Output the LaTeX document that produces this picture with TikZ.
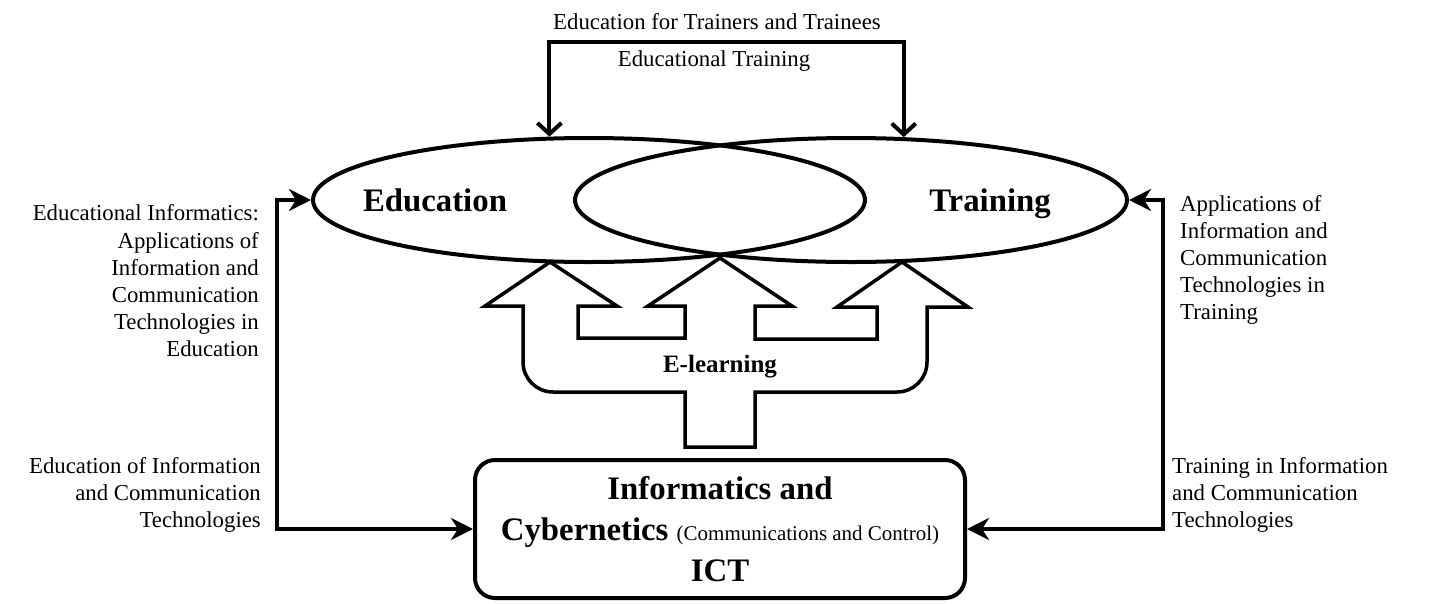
\documentclass[tikz,border=0pt]{standalone}
\usepackage{fontspec}
\setmainfont{Liberation Serif}
\usetikzlibrary{arrows.meta,shapes.geometric}
\begin{document}
\begin{tikzpicture}[x=1pt,y=-1pt,
  lbl/.style={inner sep=0pt, font=\fontsize{22.8}{27.2}\selectfont},
  ring/.style={draw, ellipse, line width=4pt, minimum width=552pt, minimum height=124pt, inner sep=0pt},
  bigtxt/.style={inner sep=0pt, anchor=base, font=\fontsize{32.8}{41}\selectfont\bfseries},
  conn/.style={line width=4pt, {Stealth[length=22pt,width=22pt,inset=7pt]}-{Stealth[length=22pt,width=22pt,inset=7pt]}},
  topconn/.style={line width=4pt, {Straight Barb[length=11pt,width=24pt]}-{Straight Barb[length=11pt,width=24pt]}},
  hub/.style={draw, rounded corners=20pt, line width=4pt, minimum width=490pt, minimum height=138pt, align=center, inner sep=0pt, font=\fontsize{32.8}{41}\selectfont\bfseries}
]
\fill[white] (0,0) rectangle (1432,603);
\useasboundingbox (0,0) rectangle (1432,603);

% ellipses
\node[ring] (eduE) at (589,200) {};
\node[ring] (trnE) at (851,200) {};
\node[bigtxt] (eduT) at (435,211) {Education};
\node[bigtxt] (trnT) at (990,211) {Training};

% top bracket
\coordinate (T) at (720,42);
\draw[topconn] (eduE.122) -- (eduE.122 |- T) -- (trnE.50 |- T) -- (trnE.50);
\node[lbl] (topA) at (717,22) {Education for Trainers and Trainees};
\node[lbl] (topB) at (714,61) {Educational Training};

% E-learning multi-arrow shape
\draw[line width=3.5pt, line join=miter]
  (550,262) -- (617,306) -- (578,306) -- (578,338) -- (685,338) -- (685,306) -- (648,306)
  -- (720,258) -- (792,306) -- (755,306) -- (755,339) -- (877,339) -- (877,307) -- (837,307)
  -- (902,262) -- (968,307) -- (927,307) -- (927,362)
  .. controls (927,378.6) and (913.6,392) .. (897,392)
  -- (755,392) -- (755,447) -- (685,447) -- (685,392) -- (553,392)
  .. controls (536.4,392) and (523,378.6) .. (523,362)
  -- (523,306) -- (485,306) -- cycle;
\node[inner sep=0pt, font=\fontsize{25}{30}\selectfont\bfseries] (elearn) at (720,367) {E-learning};

% ICT box
\node[hub] (box) at (720,529) {Informatics and\\Cybernetics {\fontsize{21}{21}\selectfont\mdseries (Communications and Control)}\\ICT};

% side connectors
\coordinate (L) at (277,0);
\coordinate (R) at (1163,0);
\draw[conn] (eduE.west) -- (eduE.west -| L) |- (box.west);
\draw[conn] (trnE.east) -- (trnE.east -| R) |- (box.east);

% side labels
\node[lbl, align=right, anchor=east] (lu) at (259,281) {Educational Informatics:\\Applications of\\Information and\\Communication\\Technologies in\\Education};
\node[lbl, align=right, anchor=east] (ll) at (261,495) {Education of Information\\and Communication\\Technologies};
\node[lbl, align=left, anchor=west] (ru) at (1180,260) {Applications of\\Information and\\Communication\\Technologies in\\Training};
\node[lbl, align=left, anchor=west] (rl) at (1172,495) {Training in Information\\and Communication\\Technologies};
\end{tikzpicture}
\end{document}
